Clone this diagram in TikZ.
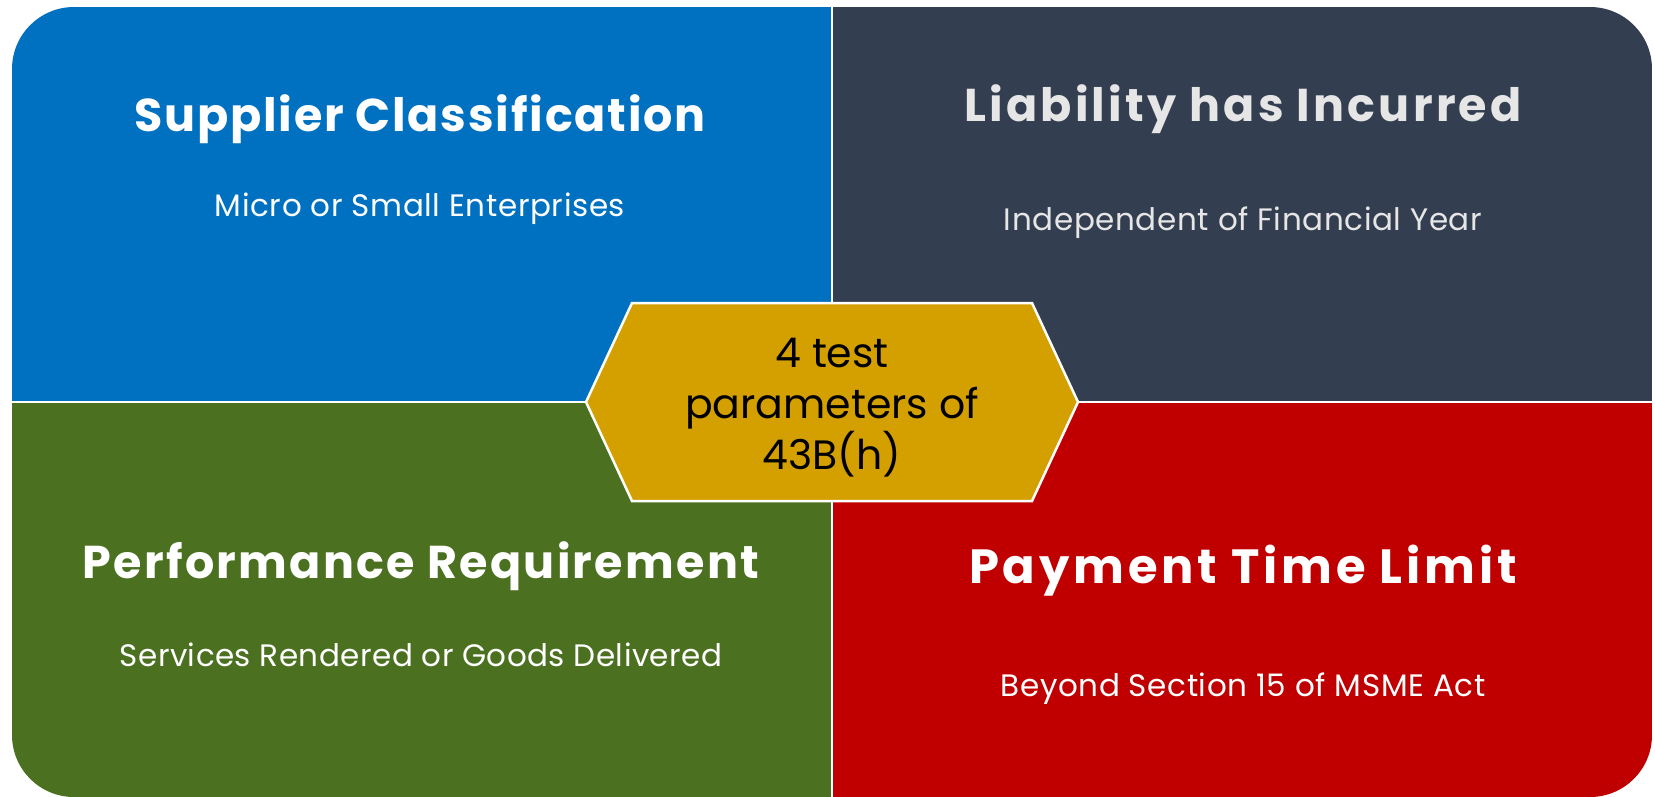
\documentclass[tikz,border=0pt]{standalone}
\usepackage{fontspec}
\setmainfont{Poppins}
\definecolor{qblue}{HTML}{0070C0}
\definecolor{qslate}{HTML}{333F50}
\definecolor{qgreen}{HTML}{4B7020}
\definecolor{qred}{HTML}{C00000}
\definecolor{qgold}{HTML}{D4A000}
\definecolor{qlight}{HTML}{E7E6E6}
\tikzset{
  title/.style={font=\fontsize{46}{54}\selectfont\bfseries\addfontfeatures{LetterSpace=#1}, anchor=center},
  title/.default=4,
  bigtitle/.style={font=\fontsize{48}{56}\selectfont\bfseries\addfontfeatures{LetterSpace=8}, anchor=center},
  subtitle/.style={font=\fontsize{31}{36}\selectfont\addfontfeatures{LetterSpace=#1}, anchor=center},
  subtitle/.default=2,
  hub/.style={font=\fontsize{41}{51}\selectfont, align=center, text=black},
  divider/.style={white, line width=2.5pt},
}
\begin{document}
\begin{tikzpicture}[x=1pt,y=-1pt]
\useasboundingbox (0,0) rectangle (1655,796);
% four quadrants inside one rounded frame
\begin{scope}
  \clip[rounded corners=62pt] (12,7) rectangle (1652,797);
  \fill[qblue]  (12,7)    rectangle (832,402);
  \fill[qslate] (832,7)   rectangle (1652,402);
  \fill[qgreen] (12,402)  rectangle (832,797);
  \fill[qred]   (832,402) rectangle (1652,797);
  \draw[divider] (832,7) -- (832,797);
  \draw[divider] (12,402) -- (1652,402);
\end{scope}
% central hexagon
\fill[qgold, draw=white, line width=2.5pt]
  (586,402) -- (632,303) -- (1032,303) -- (1078,402) -- (1032,501) -- (632,501) -- cycle;
\node[hub] (hubtext) at (832,408) {4 test\\parameters of\\43B(h)};
% quadrant texts
\node[title, text=white]        (t1) at (420,119) {Supplier Classification};
\node[subtitle, text=white]     (s1) at (420,209) {Micro or Small Enterprises};
\node[title=7, text=qlight]     (t2) at (1243,109) {Liability has Incurred};
\node[subtitle, text=qlight]    (s2) at (1243,223) {Independent of Financial Year};
\node[title=5, text=white]      (t3) at (421,566) {Performance Requirement};
\node[subtitle=1.5, text=white] (s3) at (421,655) {Services Rendered or Goods Delivered};
\node[bigtitle, text=white]     (t4) at (1243,571) {Payment Time Limit};
\node[subtitle, text=white]     (s4) at (1243,689) {Beyond Section 15 of MSME Act};
\end{tikzpicture}
\end{document}
